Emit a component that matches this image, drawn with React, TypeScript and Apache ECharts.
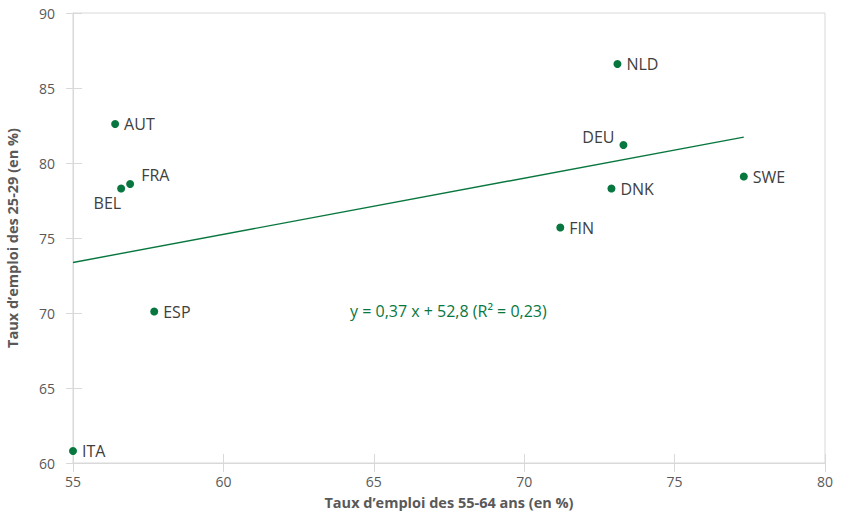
import React, { useEffect, useRef } from "react";
import * as echarts from "echarts";

const countries = ["NLD", "AUT", "DEU", "FRA", "BEL", "SWE", "DNK", "FIN", "ESP", "ITA"];
const emploi5564 = [73.1, 56.4, 73.3, 56.9, 56.6, 77.3, 72.9, 71.2, 57.7, 55.0];
const emploi2529 = [86.6, 82.6, 81.2, 78.6, 78.3, 79.1, 78.3, 75.7, 70.1, 60.8];
const labelSide = ["right", "right", "left", "upright", "below", "right", "right", "right", "right", "right"];
const equationText = "y = 0,37 x + 52,8 (R² = 0,23)";
const xTitle = "Taux d’emploi des 55-64 ans (en %)";
const yTitle = "Taux d’emploi des 25-29 (en %)";

const GREEN = "#08773f";
const FONT = "Open Sans";
const S = 8;

export default function App() {
  const ref = useRef<HTMLDivElement>(null);
  useEffect(() => {
    const chart = echarts.init(ref.current!, null, { renderer: "svg" });
    const n = emploi5564.length;
    const mx = emploi5564.reduce((a, b) => a + b, 0) / n;
    const my = emploi2529.reduce((a, b) => a + b, 0) / n;
    let sxy = 0, sxx = 0;
    for (let i = 0; i < n; i++) {
      sxy += (emploi5564[i] - mx) * (emploi2529[i] - my);
      sxx += (emploi5564[i] - mx) ** 2;
    }
    const slope = sxy / sxx;
    const intercept = my - slope * mx;
    const xmin = Math.min(...emploi5564);
    const xmax = Math.max(...emploi5564);

    const pts = countries.map((c, i) => {
      const side = labelSide[i];
      let label: any = { position: [S / 2 + 9, S / 2], align: "left", verticalAlign: "middle" };
      if (side === "left") label = { position: [S / 2 - 9, S / 2 - 8], align: "right", verticalAlign: "middle" };
      if (side === "below") label = { position: [S / 2, S / 2 + 14], align: "right", verticalAlign: "middle" };
      if (side === "upright") label = { position: [S / 2 + 11, S / 2 - 9], align: "left", verticalAlign: "middle" };
      return { value: [emploi5564[i], emploi2529[i]], name: c, label };
    });

    const axisBase = {
      type: "value",
      axisLine: { show: true, lineStyle: { color: "#d9d9d9", width: 1 } },
      splitLine: { show: false },
    };

    chart.setOption({
      animation: false,
      grid: {
        left: 73, top: 13, width: 752, height: 450, show: true,
        borderColor: "#d9d9d9", borderWidth: 1, containLabel: false, outerBoundsMode: "none",
      },
      xAxis: [
        {
          ...axisBase,
          min: 55, max: 80, interval: 5,
          axisTick: { show: true, inside: false, length: 9, lineStyle: { color: "#d9d9d9" } },
          axisLabel: { color: "#595959", fontSize: 14, fontFamily: FONT, margin: 11 },
          name: xTitle, nameLocation: "middle", nameGap: 32,
          nameTextStyle: { color: "#595959", fontSize: 14.5, fontWeight: "bold", fontFamily: FONT },
        },
        {
          ...axisBase,
          position: "bottom",
          min: 55, max: 80, interval: 5,
          axisTick: { show: true, inside: true, length: 9, lineStyle: { color: "#d9d9d9" } },
          axisLabel: { show: false },
        },
      ],
      yAxis: [
        {
          ...axisBase,
          min: 60, max: 90, interval: 5,
          axisTick: { show: true, inside: false, length: 7, lineStyle: { color: "#d9d9d9" } },
          axisLabel: { color: "#595959", fontSize: 14, fontFamily: FONT, margin: 18 },
          name: yTitle, nameLocation: "middle", nameGap: 53, nameRotate: 90,
          nameTextStyle: { color: "#595959", fontSize: 14.5, fontWeight: "bold", fontFamily: FONT },
        },
        {
          ...axisBase,
          position: "left",
          min: 60, max: 90, interval: 5,
          axisTick: { show: true, inside: true, length: 9, lineStyle: { color: "#d9d9d9" } },
          axisLabel: { show: false },
        },
      ],
      series: [
        {
          type: "line",
          data: [[xmin, slope * xmin + intercept], [xmax, slope * xmax + intercept]],
          symbol: "none",
          lineStyle: { color: GREEN, width: 1.4 },
          silent: true,
          z: 1,
        },
        {
          type: "scatter",
          symbolSize: S,
          itemStyle: { color: GREEN, opacity: 1 },
          data: pts,
          label: {
            show: true,
            formatter: "{b}",
            color: "#404040",
            fontSize: 16,
            fontFamily: FONT,
          },
          z: 3,
        },
      ],
      graphic: [
        {
          type: "text",
          left: 350,
          top: 303,
          style: { text: equationText, fill: GREEN, fontSize: 16, fontFamily: FONT },
        },
      ],
    });
    return () => chart.dispose();
  }, []);
  return <div ref={ref} style={{ width: 842, height: 516, position: "absolute", left: 0, top: 0 }} />;
}
